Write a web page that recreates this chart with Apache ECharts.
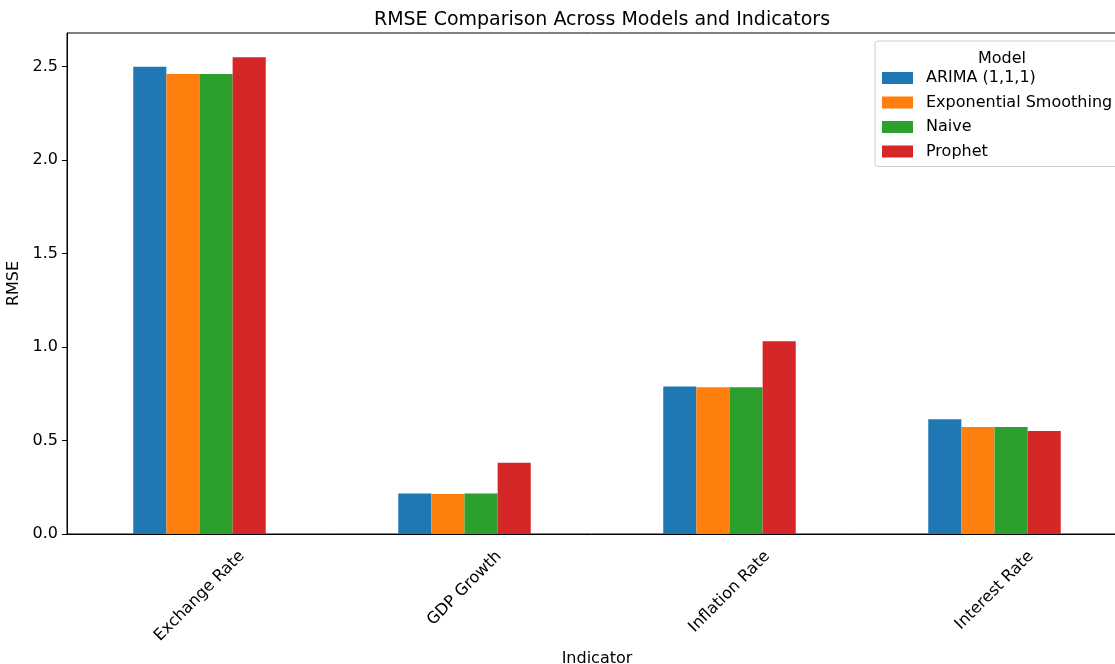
<!DOCTYPE html>
<html>
<head>
<meta charset="utf-8">
<script src="https://cdn.jsdelivr.net/npm/echarts@6/dist/echarts.min.js"></script>
<style>
  html, body { margin: 0; padding: 0; background: #fff; }
  #chart { width: 1115px; height: 664px; }
</style>
</head>
<body>
<div id="chart"></div>
<script>
const indicators = ['Exchange Rate', 'GDP Growth', 'Inflation Rate', 'Interest Rate']
const models = ['ARIMA (1,1,1)', 'Exponential Smoothing', 'Naive', 'Prophet']
const arima = [2.50, 0.217, 0.789, 0.614]
const expSmoothing = [2.461, 0.214, 0.785, 0.572]
const naive = [2.461, 0.216, 0.785, 0.572]
const prophet = [2.55, 0.381, 1.031, 0.551]
const yTicks = [0, 0.5, 1.0, 1.5, 2.0, 2.5]

const colors = ['#1f77b4', '#ff7f0e', '#2ca02c', '#d62728']
const font = 'DejaVu Sans'
const seriesData = [arima, expSmoothing, naive, prophet]

// matplotlib centres rotated tick labels under the tick; echarts anchors the end,
// so pad each label (centre-aligned) to push its middle down and left
const ctx = document.createElement('canvas').getContext('2d')
ctx.font = '16px "DejaVu Sans"'
const labelRich = {}
indicators.forEach((t, i) => {
  const p = Math.round((ctx.measureText(t).width + 17) / 2)
  labelRich['l' + i] = { fontFamily: font, fontSize: 16, color: '#000', padding: [p, p, 0, 0] }
})

const chart = echarts.init(document.getElementById('chart'), null, { renderer: 'canvas' })

chart.setOption({
  animation: false,
  textStyle: { fontFamily: font },
  title: [
    {
      text: 'RMSE Comparison Across Models and Indicators',
      left: 597, top: 6, textAlign: 'center',
      textStyle: { fontFamily: font, fontSize: 19, fontWeight: 'normal', color: '#000' },
    },
    {
      text: 'Model',
      left: 997, top: 46, textAlign: 'center',
      textStyle: { fontFamily: font, fontSize: 16, fontWeight: 'normal', color: '#000' },
    },
  ],
  grid: {
    left: 67, top: 33, width: 1060, bottom: 130,
    outerBoundsMode: 'none',
    containLabel: false,
    show: true, borderColor: '#000', borderWidth: 1, backgroundColor: 'transparent',
  },
  legend: {
    data: models,
    orient: 'vertical',
    left: 875, top: 41,
    padding: [29, 12, 7, 7],
    itemWidth: 31, itemHeight: 12, itemGap: 8.5,
    borderColor: '#cccccc', borderWidth: 1, borderRadius: 3,
    backgroundColor: 'rgba(255,255,255,0.8)',
    icon: 'rect',
    textStyle: { fontFamily: font, fontSize: 16, color: '#000', lineHeight: 16, padding: [0, 0, 0, 8] },
  },
  xAxis: {
    type: 'category',
    data: indicators,
    name: 'Indicator',
    nameLocation: 'middle',
    nameGap: 112,
    nameTextStyle: { fontFamily: font, fontSize: 16, color: '#000' },
    axisLine: { lineStyle: { color: '#000', width: 1 } },
    axisTick: { alignWithLabel: true, length: 5, lineStyle: { color: '#000' } },
    axisLabel: {
      rotate: 45, align: 'center', verticalAlign: 'middle', margin: 14,
      fontFamily: font, fontSize: 16, color: '#000',
      formatter: (v, i) => `{l${i}|${v}}`,
      rich: labelRich,
    },
    splitLine: { show: false },
  },
  yAxis: {
    type: 'value',
    min: 0, max: 2.68,
    name: 'RMSE',
    nameLocation: 'middle',
    nameGap: 41,
    nameTextStyle: { fontFamily: font, fontSize: 16, color: '#000' },
    axisLine: { show: true, lineStyle: { color: '#000', width: 1 } },
    axisTick: { show: true, length: 5, lineStyle: { color: '#000' }, customValues: yTicks },
    axisLabel: {
      fontFamily: font, fontSize: 16, color: '#000', margin: 9,
      customValues: yTicks,
      formatter: (v) => v.toFixed(1),
    },
    splitLine: { show: false },
  },
  series: models.map((m, i) => ({
    name: m,
    type: 'bar',
    data: seriesData[i],
    barWidth: '12.5%',
    barGap: '0%',
    itemStyle: { color: colors[i] },
  })),
})
</script>
</body>
</html>
